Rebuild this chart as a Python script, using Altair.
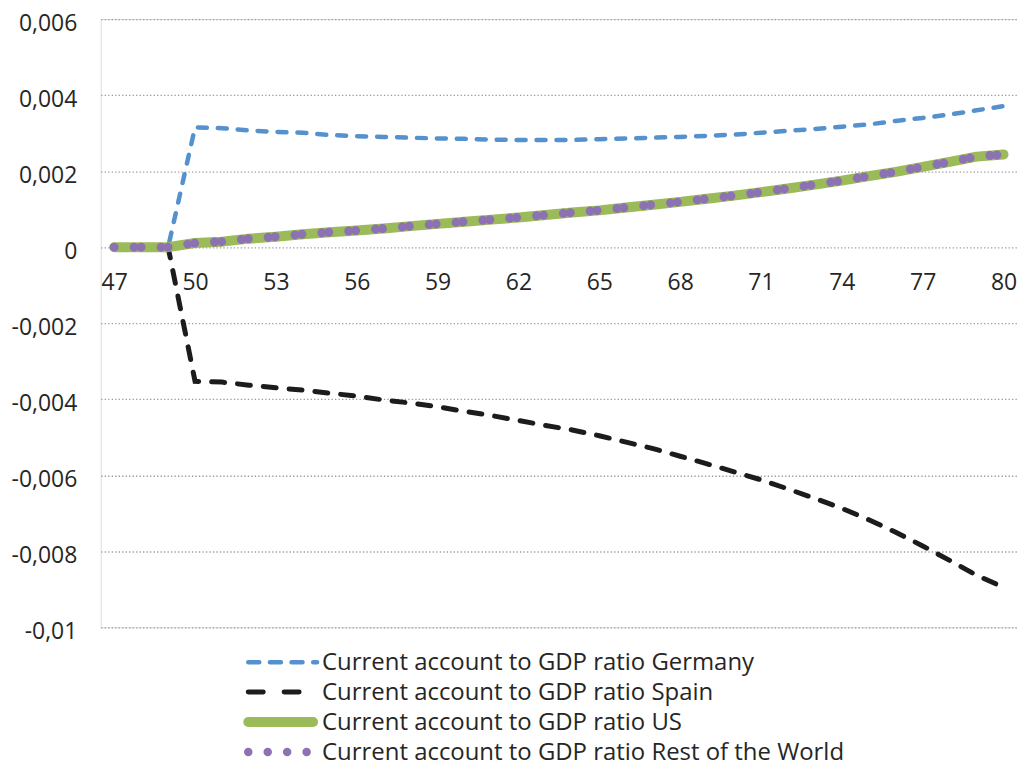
import altair as alt
import pandas as pd

years = list(range(47, 81))

germany = [0, 0, 0,
           0.00315, 0.00313, 0.00307, 0.00303, 0.00301, 0.00295, 0.00292, 0.0029, 0.00288, 0.00286,
           0.00285, 0.00283, 0.00282, 0.00282, 0.00282, 0.00284, 0.00286, 0.00288, 0.0029, 0.00293,
           0.00296, 0.00301, 0.00306, 0.00311, 0.00317, 0.00323, 0.00332, 0.0034, 0.00349, 0.0036,
           0.00371]
spain = [0, 0, 0,
         -0.00353, -0.00355, -0.00363, -0.0037, -0.00376, -0.00384, -0.00392, -0.00402, -0.0041, -0.0042,
         -0.00432, -0.00443, -0.00456, -0.00469, -0.00481, -0.00496, -0.00513, -0.0053, -0.0055, -0.0057,
         -0.00591, -0.00612, -0.00636, -0.00661, -0.00687, -0.00717, -0.0075, -0.00786, -0.00824, -0.00863,
         -0.00895]
us = [0, 0, 0,
      0.00011, 0.000145, 0.000224, 0.000276, 0.000342, 0.000395, 0.000439, 0.000492, 0.000553, 0.000613,
      0.000671, 0.000724, 0.000782, 0.000847, 0.000913, 0.000968, 0.001045, 0.001118, 0.001192, 0.001274,
      0.001355, 0.001447, 0.001545, 0.001645, 0.00175, 0.001868, 0.001982, 0.00211, 0.002242, 0.002382,
      0.00244]
rest_of_world = [0, 0, 0,
                 0.00011, 0.000145, 0.000224, 0.000276, 0.000342, 0.000395, 0.000439, 0.000492, 0.000553, 0.000613,
                 0.000671, 0.000724, 0.000782, 0.000847, 0.000913, 0.000968, 0.001045, 0.001118, 0.001192, 0.001274,
                 0.001355, 0.001447, 0.001545, 0.001645, 0.00175, 0.001868, 0.001982, 0.00211, 0.002242, 0.002382,
                 0.00244]

series_keys = ["Germany", "Spain", "US", "RoW"]
series_labels = ["Current account to GDP ratio Germany",
                 "Current account to GDP ratio Spain",
                 "Current account to GDP ratio US",
                 "Current account to GDP ratio Rest of the World"]
x_ticks = [47, 50, 53, 56, 59, 62, 65, 68, 71, 74, 77, 80]
y_ticks = [-0.01, -0.008, -0.006, -0.004, -0.002, 0, 0.002, 0.004, 0.006]

values = {"Germany": germany, "Spain": spain, "US": us, "RoW": rest_of_world}
rows = []
for k in series_keys:
    for yr, v in zip(years, values[k]):
        rows.append({"year": yr, "value": v, "series": k})
df = pd.DataFrame(rows)
leg_df = pd.DataFrame({"series": series_keys, "label": series_labels})

FONT = "Open Sans"
TXT = "#262626"
W, H = 919, 610

x_enc = alt.X("year:Q",
              scale=alt.Scale(domain=[46.5, 80.5], nice=False, zero=False),
              axis=alt.Axis(values=x_ticks, title=None, domain=False, ticks=False, grid=False,
                            labelFontSize=23, labelFont=FONT, labelColor=TXT,
                            labelPadding=24, offset=-381.25, labelFlush=False))
y_enc = alt.Y("value:Q",
              scale=alt.Scale(domain=[-0.01, 0.006], nice=False, zero=False),
              axis=alt.Axis(values=y_ticks, title=None, domain=False, ticks=False, grid=True,
                            gridDash=[1.3, 2.2], gridColor="#9a9a9a", gridWidth=1.3,
                            labelFontSize=23, labelFont=FONT, labelColor=TXT, labelPadding=24,
                            labelOffset=4, labelFlush=False,
                            labelExpr="replace(replace(format(datum.value, '~g'), '.', ','), '\u2212', '-')"))

base = alt.Chart(df).encode(x=x_enc, y=y_enc)

styles = {
    "Germany": dict(color="#5591CD", strokeWidth=4.5, strokeDash=[9, 11], strokeCap="round"),
    "Spain": dict(color="#1c1c1c", strokeWidth=5, strokeDash=[13, 13], strokeCap="round"),
    "US": dict(color="#9BBB59", strokeWidth=10, strokeCap="round", strokeJoin="round"),
    "RoW": dict(color="#8C72B3", strokeWidth=9, strokeDash=[0, 20, 0, 7], strokeCap="round"),
}

line_layers = []
for k in series_keys:
    line_layers.append(
        base.transform_filter(alt.datum.series == k).mark_line(**styles[k])
    )
lines = alt.layer(*line_layers)

leg_y = alt.Y("series:N", scale=alt.Scale(type="point", domain=series_keys, range=[645, 735], padding=0),
              axis=None)
leg_styles = {
    "Germany": (dict(color="#5591CD", strokeWidth=4.5, strokeDash=[11, 10.7], strokeCap="round"), 217),
    "Spain": (dict(color="#1c1c1c", strokeWidth=5, strokeDash=[15, 21], strokeCap="round"), 217),
    "US": (dict(color="#9BBB59", strokeWidth=10, strokeCap="round"), 213),
    "RoW": (dict(color="#8C72B3", strokeWidth=8.5, strokeDash=[0, 19.5], strokeCap="round"), 208),
}
leg_layers = []
for k in series_keys:
    st, xend = leg_styles[k]
    leg_layers.append(
        alt.Chart(leg_df).transform_filter(alt.datum.series == k).mark_rule(**st).encode(
            y=leg_y, x=alt.value(148), x2=alt.value(xend))
    )
leg_layers.append(
    alt.Chart(leg_df).mark_text(align="left", baseline="middle", fontSize=24, font=FONT, color=TXT,
                                dy=1).encode(
        y=leg_y, x=alt.value(222), text="label:N")
)
legend = alt.layer(*leg_layers)

chart = alt.layer(lines, legend).resolve_scale(y="independent").properties(
    width=W, height=H,
    autosize=alt.AutoSizeParams(type="none"),
    padding={"left": 93, "top": 10, "right": 0, "bottom": 141},
).configure_view(stroke=None).configure(background="white")

chart.save("out.html", embed_options={"renderer": "svg", "actions": False})
